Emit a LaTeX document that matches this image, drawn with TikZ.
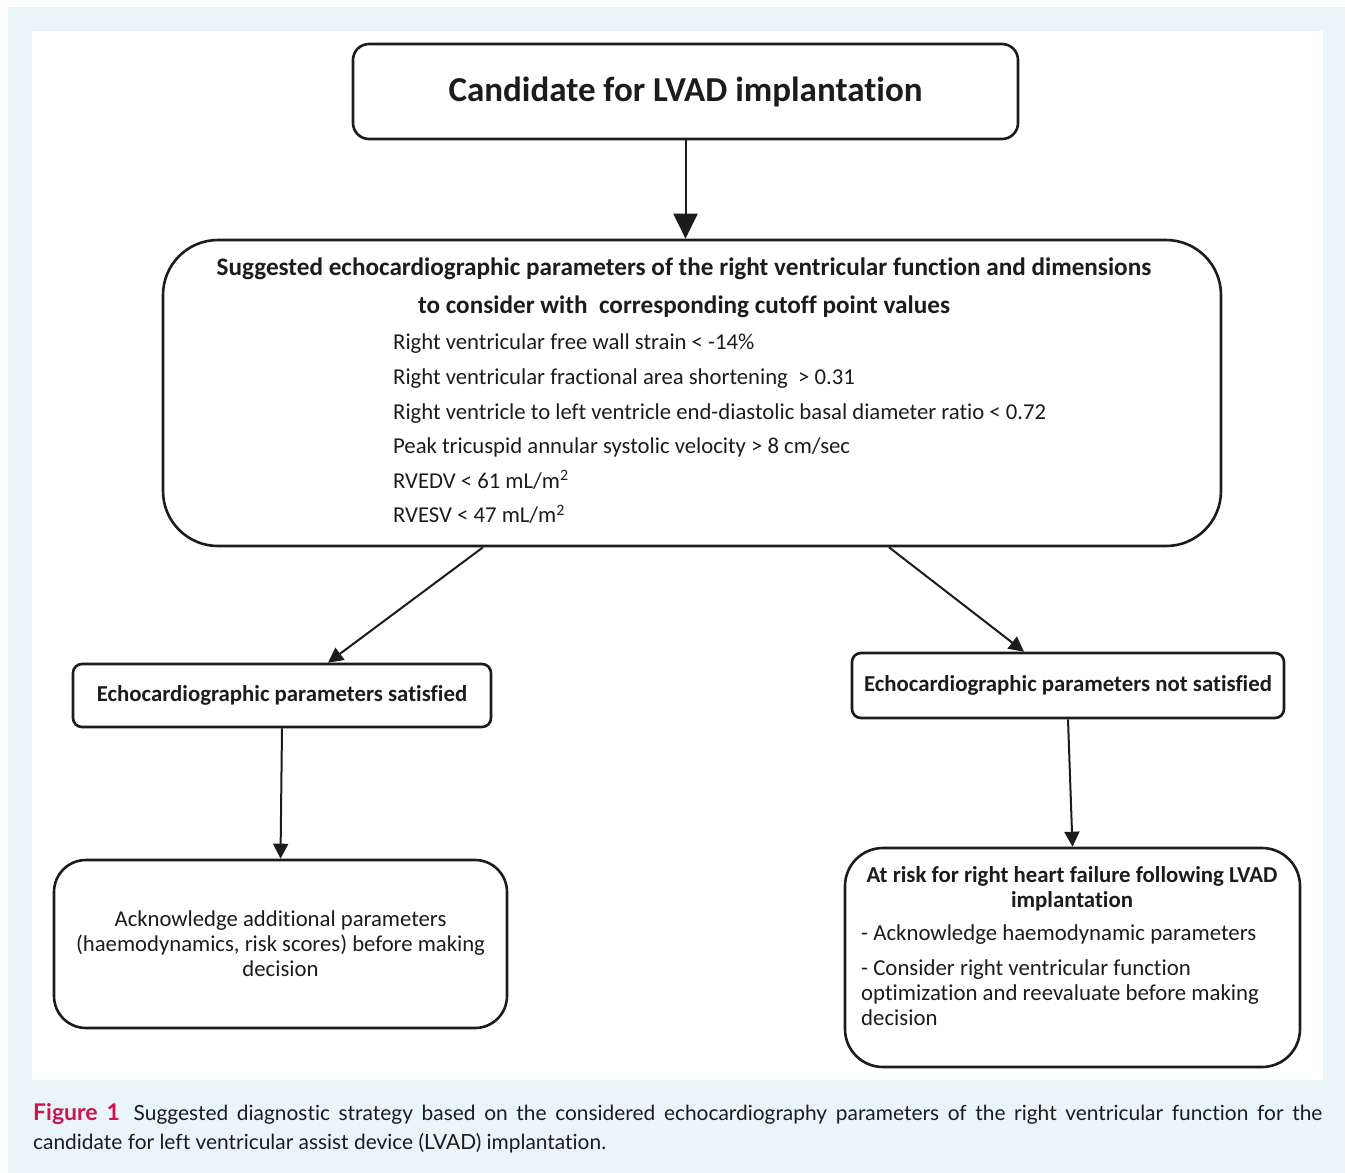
\documentclass[tikz,border=0pt]{standalone}
\usepackage{fontspec}
\setmainfont{Carlito}[Ligatures=NoCommon]
\newfontfamily\capfont{Lato}[Ligatures=NoCommon]
\usetikzlibrary{arrows.meta,positioning,calc}
\definecolor{panelblue}{RGB}{233,245,248}
\definecolor{figcrimson}{RGB}{205,20,80}
\definecolor{inkgray}{RGB}{28,28,28}

\begin{document}
\begin{tikzpicture}[
    x=1pt, y=-1pt,
    box/.style={draw=inkgray, line width=2.6pt, fill=white, inner sep=0pt, align=center, text=inkgray},
    txt/.style={inner sep=0pt, text=inkgray},
    arr/.style={-{Triangle[length=15pt, width=15pt]}, line width=2pt, draw=inkgray},
    bigarr/.style={-{Triangle[length=25pt, width=24pt]}, line width=2pt, draw=inkgray}
]
% background panels
\useasboundingbox (0,0) rectangle (1345,1173);
\fill[panelblue] (8,7) rectangle (1345,1173);
\fill[white] (32,31) rectangle (1323,1080);

% boxes
\node[box, rounded corners=16pt, minimum width=665pt, minimum height=95pt, font=\fontsize{35}{40}\selectfont\bfseries] (cand) at (685.5,91.5) {Candidate for LVAD implantation};
\node[box, rounded corners=55pt, minimum width=1058pt, minimum height=306pt] (params) at (692,393) {};
\node[box, rounded corners=9pt, minimum width=418pt, minimum height=63pt, font=\fontsize{22.8}{26}\selectfont\bfseries] (sat) at (282,695.5) {Echocardiographic parameters satisfied};
\node[box, rounded corners=9pt, minimum width=432pt, minimum height=65pt, font=\fontsize{22.8}{26}\selectfont\bfseries] (notsat) at (1068,685.5) {Echocardiographic parameters not satisfied};
\node[box, rounded corners=32pt, minimum width=453pt, minimum height=168pt] (ackn) at (280.5,944) {};
\node[box, rounded corners=38pt, minimum width=455pt, minimum height=219pt] (risk) at (1072.5,957.5) {};

% texts inside the boxes
\node[txt, align=center, font=\fontsize{25.2}{38}\selectfont\bfseries] (paramtitle) at (684,288) {Suggested echocardiographic parameters of the right ventricular function and dimensions\\to consider with\ \ corresponding cutoff point values};
\node[txt, align=left, anchor=north west, font=\fontsize{22.7}{34.6}\selectfont] (paramlist) at (393,334) {Right ventricular free wall strain < -14\%\\
Right ventricular fractional area shortening\ \ > 0.31\\
Right ventricle to left ventricle end-diastolic basal diameter ratio < 0.72\\
Peak tricuspid annular systolic velocity > 8 cm/sec\\
RVEDV < 61 mL/m\textsuperscript{2}\\
RVESV < 47 mL/m\textsuperscript{2}};
\node[txt, align=center, font=\fontsize{22.7}{25}\selectfont] (ackntext) at (280.5,944) {Acknowledge additional parameters\\(haemodynamics, risk scores) before making\\decision};
\node[txt, align=center, font=\fontsize{22.8}{25}\selectfont\bfseries] (risktitle) at (1072,888.5) {At risk for right heart failure following LVAD\\implantation};
\node[txt, align=left, anchor=north west, font=\fontsize{22.8}{25}\selectfont] (risklist) at (861,924) {- Acknowledge haemodynamic parameters\\[10pt]
- Consider right ventricular function\\
optimization and reevaluate before making\\
decision};

% connectors
\draw[bigarr] (cand.south) -- (cand.south |- params.north);
\draw[arr] ([xshift=-209pt]params.south) -- ([xshift=46pt]sat.north);
\draw[arr] ([xshift=197pt]params.south) -- ([xshift=-44pt]notsat.north);
\draw[arr] (sat.south) -- (ackn.north);
\draw[arr] (notsat.south) -- (risk.north);

% caption
\node[txt, anchor=north west, text width=1289pt, align=justify, font=\capfont\fontsize{20.9}{29}\selectfont] (caption) at (33,1103) {{\color{figcrimson}\bfseries\fontsize{23}{29}\selectfont Figure 1}\hspace{5pt} Suggested diagnostic strategy based on the considered echocardiography parameters of the right ventricular function for the\linebreak candidate for left ventricular assist device (LVAD) implantation.};
\end{tikzpicture}
\end{document}
